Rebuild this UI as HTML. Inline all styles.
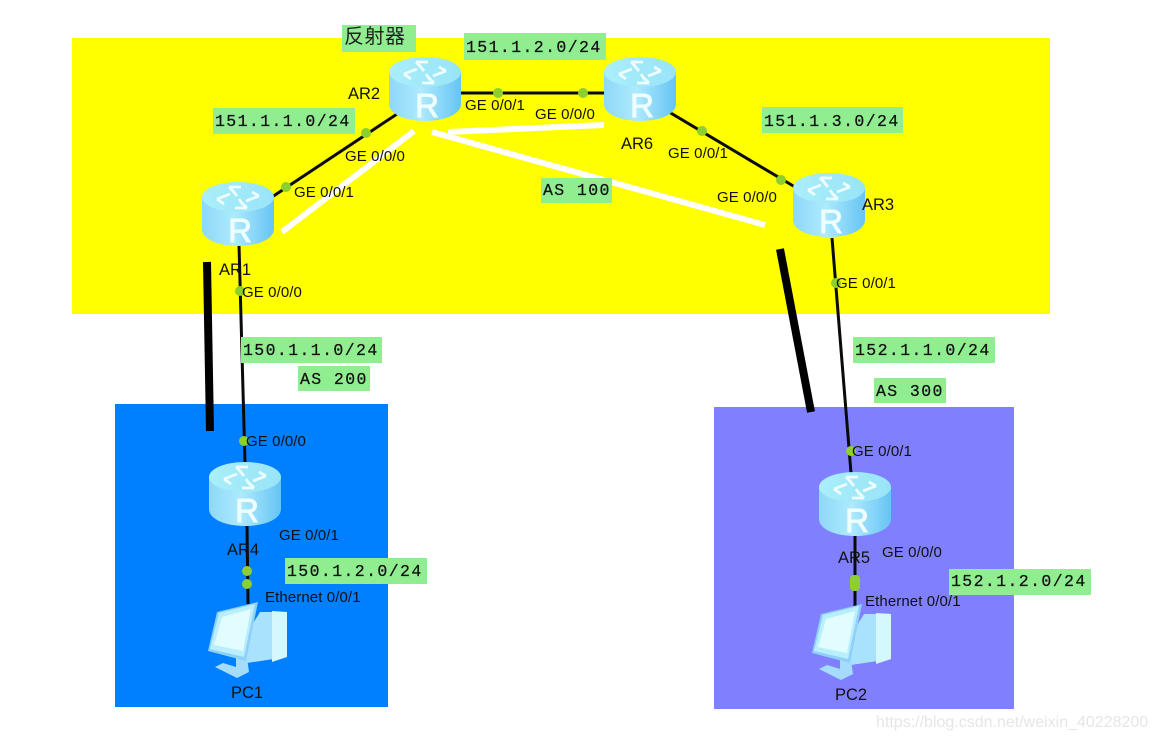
<!DOCTYPE html>
<html>
<head>
<meta charset="utf-8">
<style>
html,body{margin:0;padding:0;background:#fff;width:1157px;height:739px;overflow:hidden}
svg{display:block}
.l{font-family:"Liberation Sans",sans-serif;font-size:16.5px;fill:#111}
.p{font-family:"Liberation Sans",sans-serif;font-size:15px;fill:#111;letter-spacing:.1px}
.m{font-family:"Liberation Mono",monospace;font-size:16.5px;fill:#111;letter-spacing:1.4px;stroke:#111;stroke-width:.25}
.c{font-family:"Noto Sans CJK SC",sans-serif;font-size:20px;fill:#222;letter-spacing:.5px}
.r{font-family:"Liberation Sans",sans-serif;font-size:33px;fill:#eefeff;stroke:#eefeff;stroke-width:.9;text-anchor:middle}
</style>
</head>
<body>
<svg width="1157" height="739" viewBox="0 0 1157 739" xmlns="http://www.w3.org/2000/svg">
<defs>
<linearGradient id="side" x1="0" x2="1" y1="0" y2="0">
<stop offset="0" stop-color="#8ed8f8"/><stop offset=".45" stop-color="#aeeafd"/><stop offset="1" stop-color="#66c4f4"/>
</linearGradient>
<linearGradient id="top" x1="0" x2="1" y1="0" y2="0">
<stop offset="0" stop-color="#aaeefa"/><stop offset="1" stop-color="#98e4f7"/>
</linearGradient>
<g id="rt">
<path d="M-36-17V15C-36 25-20 32 0 32S36 25 36 15V-17Z" fill="url(#side)"/>
<ellipse cx="0" cy="-17" rx="36" ry="15" fill="url(#top)"/>
<g fill="none" stroke="#eefdff" stroke-width="2.8">
<path d="M-21-15-8-20M-21-15-14-10M-9-27 3-27M-9-27-4-22M21-18 8-13M21-18 14-22M9-6-3-6M9-6 4-11M-6-24-1-18M5-9 1-15"/>
</g>
<text class="r" x="2" y="28">R</text>
</g>
<g id="pc">
<path d="M13-36 40-36V9L0 15-3-10Z" fill="#a9e2fc"/>
<path d="M25-37 40-36V9L25 14Z" fill="#d5f8fe"/>
<path d="M-32 19-24 15-11 19-11 9 0 10 2 24-10 30Z" fill="#a6dcfb"/>
<path d="M-30-36 11-46-1 13-39 3Z" fill="#8fd0fa"/>
<path d="M-28-35 8-44-3 9-37 1Z" fill="#b9effc"/>
<path d="M-25-31 4-39-4 3-33-3Z" fill="#e2fdff"/>
</g>
</defs>

<rect width="1157" height="739" fill="#fff"/>
<rect x="72" y="38" width="978" height="276" fill="#ffff00"/>
<rect x="115" y="404" width="273" height="303" fill="#0080ff"/>
<rect x="714" y="407" width="300" height="302" fill="#8080ff"/>

<!-- white lines -->
<g stroke="#fff" stroke-width="6" fill="none">
<path d="M282 232 414 131"/>
<path d="M432 132 765 225"/>
<path d="M448 132 604 125"/>
</g>
<!-- thick black -->
<path d="M207 262 210 431" stroke="#000" stroke-width="8"/>
<path d="M780 249 811 412" stroke="#000" stroke-width="8"/>

<!-- links -->
<g stroke="#0a0a0a" stroke-width="3" fill="none">
<path d="M272 197 397 114"/>
<path d="M461 93H605"/>
<path d="M669 112 795 187"/>
<path d="M239 245 245 463"/>
<path d="M832 238 851 473"/>
<path d="M247 525 248 604"/>
<path d="M855 530 855 606"/>
</g>
<!-- dots -->
<g fill="#8ccf2e">
<circle cx="366" cy="133" r="5"/>
<circle cx="286" cy="187" r="5"/>
<circle cx="498" cy="93" r="5"/>
<circle cx="583" cy="93" r="5"/>
<circle cx="702" cy="131" r="5"/>
<circle cx="781" cy="180" r="5"/>
<circle cx="240" cy="291" r="5"/>
<circle cx="836" cy="283" r="5"/>
<circle cx="244" cy="441" r="5"/>
<circle cx="851" cy="451" r="5"/>
<circle cx="247" cy="571" r="5"/>
<circle cx="247" cy="584" r="5"/>
<rect x="850" y="575" width="10" height="16" rx="4"/>
</g>

<!-- routers -->
<use href="#rt" x="425" y="89"/>
<use href="#rt" x="640" y="89"/>
<use href="#rt" x="238" y="214"/>
<use href="#rt" x="829" y="205"/>
<use href="#rt" x="245" y="494"/>
<use href="#rt" x="855" y="504"/>
<use href="#pc" x="247" y="648"/>
<use href="#pc" x="851" y="650"/>

<!-- green labels -->
<g fill="#90ee90">
<rect x="342" y="25" width="74" height="27"/>
<rect x="464" y="33" width="142" height="27"/>
<rect x="213" y="108" width="142" height="26"/>
<rect x="762" y="107" width="141" height="26"/>
<rect x="541" y="178" width="71" height="25"/>
<rect x="241" y="337" width="141" height="26"/>
<rect x="853" y="337" width="142" height="26"/>
<rect x="298" y="366" width="72" height="25"/>
<rect x="874" y="378" width="72" height="25"/>
<rect x="285" y="558" width="142" height="26"/>
<rect x="949" y="569" width="142" height="26"/>
</g>
<text class="c" x="344" y="43">反射器</text>
<text class="m" x="466" y="52">151.1.2.0/24</text>
<text class="m" x="215" y="126">151.1.1.0/24</text>
<text class="m" x="764" y="126">151.1.3.0/24</text>
<text class="m" x="543" y="195">AS 100</text>
<text class="m" x="243" y="355">150.1.1.0/24</text>
<text class="m" x="855" y="355">152.1.1.0/24</text>
<text class="m" x="300" y="384">AS 200</text>
<text class="m" x="876" y="396">AS 300</text>
<text class="m" x="287" y="576">150.1.2.0/24</text>
<text class="m" x="951" y="586">152.1.2.0/24</text>

<!-- device labels -->
<text class="l" x="348" y="99">AR2</text>
<text class="l" x="621" y="149">AR6</text>
<text class="l" x="862" y="210">AR3</text>
<text class="l" x="219" y="275">AR1</text>
<text class="l" x="227" y="555">AR4</text>
<text class="l" x="838" y="563">AR5</text>
<text class="l" x="231" y="698">PC1</text>
<text class="l" x="835" y="700">PC2</text>

<!-- port labels -->
<text class="p" x="345" y="161">GE 0/0/0</text>
<text class="p" x="294" y="197">GE 0/0/1</text>
<text class="p" x="465" y="110">GE 0/0/1</text>
<text class="p" x="535" y="119">GE 0/0/0</text>
<text class="p" x="668" y="158">GE 0/0/1</text>
<text class="p" x="717" y="202">GE 0/0/0</text>
<text class="p" x="242" y="297">GE 0/0/0</text>
<text class="p" x="836" y="288">GE 0/0/1</text>
<text class="p" x="246" y="446">GE 0/0/0</text>
<text class="p" x="852" y="456">GE 0/0/1</text>
<text class="p" x="279" y="540">GE 0/0/1</text>
<text class="p" x="882" y="557">GE 0/0/0</text>
<text class="p" x="265" y="602">Ethernet 0/0/1</text>
<text class="p" x="865" y="606">Ethernet 0/0/1</text>

<text x="876" y="727" font-family="Liberation Sans, sans-serif" font-size="16" fill="#e6e6e6">https://blog.csdn.net/weixin_40228200</text>
</svg>
</body>
</html>
